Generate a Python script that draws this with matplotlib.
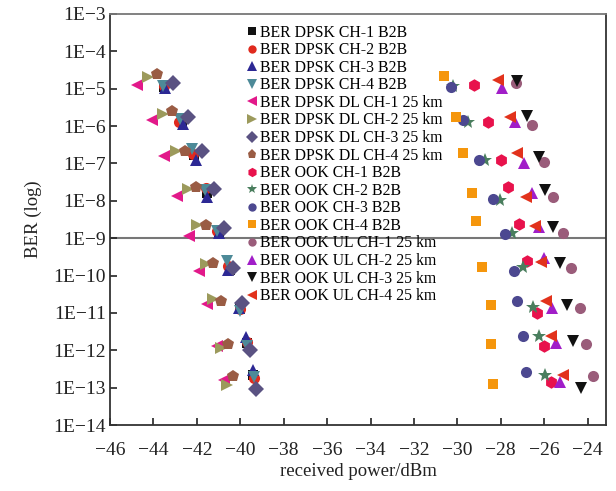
import matplotlib
matplotlib.use("Agg")
import matplotlib.pyplot as plt
import numpy as np

plt.rcParams['font.family'] = ['Liberation Serif', 'DejaVu Serif']

# series labels
labels = [
    "BER DPSK CH-1 B2B", "BER DPSK CH-2 B2B", "BER DPSK CH-3 B2B", "BER DPSK CH-4 B2B",
    "BER DPSK DL CH-1 25 km", "BER DPSK DL CH-2 25 km", "BER DPSK DL CH-3 25 km",
    "BER DPSK DL CH-4 25 km",
    "BER OOK CH-1 B2B", "BER OOK CH-2 B2B", "BER OOK CH-3 B2B", "BER OOK CH-4 B2B",
    "BER OOK UL CH-1 25 km", "BER OOK UL CH-2 25 km", "BER OOK UL CH-3 25 km",
    "BER OOK UL CH-4 25 km",
]

# received power (dBm) per series
power = [
    [-43.50, -42.70, -42.15, -41.55, -41.00, -40.47, -40.00, -39.70, -39.40],
    [-43.52, -42.81, -42.20, -41.60, -41.05, -40.58, -40.02, -39.68, -39.38],
    [-43.47, -42.65, -42.04, -41.52, -40.98, -40.55, -40.04, -39.73, -39.40],
    [-43.54, -42.77, -42.24, -41.62, -41.08, -40.62, -40.01, -39.67, -39.36],
    [-44.77, -44.08, -43.50, -42.90, -42.35, -41.88, -41.52, -41.06, -40.75],
    [-44.23, -43.54, -42.96, -42.39, -41.98, -41.58, -41.27, -40.90, -40.59],
    [-43.08, -42.39, -41.77, -41.21, -40.75, -40.32, -39.93, -39.55, -39.27],
    [-43.82, -43.16, -42.54, -42.04, -41.58, -41.24, -40.90, -40.55, -40.32],
    [-29.23, -28.57, -28.00, -27.65, -27.18, -26.80, -26.34, -26.00, -25.69],
    [-30.18, -29.49, -28.72, -28.03, -27.49, -26.98, -26.52, -26.26, -25.95],
    [-30.30, -29.72, -28.98, -28.36, -27.80, -27.41, -27.23, -26.98, -26.83],
    [-30.61, -30.06, -29.75, -29.33, -29.13, -28.87, -28.46, -28.46, -28.34],
    [-27.30, -26.57, -26.03, -25.57, -25.14, -24.77, -24.37, -24.06, -23.76],
    [-27.95, -27.34, -26.95, -26.57, -26.22, -26.00, -25.65, -25.45, -25.29],
    [-27.23, -26.77, -26.26, -25.95, -25.57, -25.26, -24.95, -24.65, -24.31],
    [-28.11, -27.57, -27.26, -26.83, -26.41, -26.15, -25.91, -25.69, -25.11],
]

# log10(BER) per series
log_ber = [
    [-4.95, -5.88, -6.78, -7.80, -8.85, -9.86, -10.90, -11.80, -12.65],
    [-4.93, -5.88, -6.75, -7.65, -8.80, -9.75, -10.90, -11.78, -12.75],
    [-4.99, -5.94, -6.90, -7.89, -8.86, -9.84, -10.87, -11.64, -12.52],
    [-4.93, -5.81, -6.62, -7.72, -8.82, -9.60, -10.96, -11.88, -12.71],
    [-4.90, -5.85, -6.80, -7.87, -8.94, -9.89, -10.75, -11.88, -12.80],
    [-4.69, -5.67, -6.66, -7.69, -8.64, -9.68, -10.63, -11.94, -12.92],
    [-4.84, -5.75, -6.68, -7.69, -8.73, -9.81, -10.74, -11.98, -13.03],
    [-4.60, -5.59, -6.66, -7.63, -8.65, -9.67, -10.69, -11.83, -12.70],
    [-4.91, -5.88, -6.92, -7.63, -8.61, -9.60, -10.99, -11.89, -12.84],
    [-4.93, -5.88, -6.92, -7.97, -8.85, -9.77, -10.83, -11.61, -12.65],
    [-4.96, -5.85, -6.92, -7.95, -8.88, -9.89, -10.69, -11.63, -12.59],
    [-4.66, -5.76, -6.71, -7.79, -8.53, -9.77, -10.78, -11.82, -12.89],
    [-4.85, -5.97, -6.95, -7.90, -8.85, -9.80, -10.87, -11.82, -12.68],
    [-4.99, -5.88, -6.98, -7.78, -8.70, -9.53, -10.87, -11.81, -12.84],
    [-4.78, -5.73, -6.82, -7.71, -8.70, -9.67, -10.78, -11.74, -13.01],
    [-4.76, -5.76, -6.72, -7.89, -8.67, -9.65, -10.69, -11.63, -12.65],
]

markers = ['s', 'o', '^', 'v', '<', '>', 'D', 'p',
           'h', '*', 'o', 's', 'o', '^', 'v', '<']
colors = ['#111111', '#e02a1e', '#2c2894', '#4d8a98', '#e2198a', '#9c9a5c', '#5a5282', '#9a5c44',
          '#e8124c', '#4a7e5e', '#4c4890', '#f5960c', '#9a5c7a', '#a11ec8', '#111111', '#e2321c']
sizes = [7, 8, 9, 9, 9, 9, 8, 9, 9, 10, 8, 7, 8, 9, 9, 9]

fig = plt.figure(figsize=(6.16, 4.91), dpi=100)
ax = fig.add_axes([0.1786, 0.1344, 0.8052, 0.8371])

for lab, xs, ys, m, c, s in zip(labels, power, log_ber, markers, colors, sizes):
    ax.plot(xs, 10 ** np.array(ys), linestyle='none', marker=m, color=c,
            markersize=s, markeredgewidth=0, label=lab)

ax.axhline(1e-9, color='#777777', lw=1.5, zorder=0)

ax.set_yscale('log')
ax.set_ylim(1e-14, 1e-3)
ax.set_xlim(-46, -23.15)
ax.set_xticks(np.arange(-46, -23, 2))
ax.set_xticklabels(['\u2212%d' % abs(v) for v in range(-46, -23, 2)])
yt = np.arange(-14, -2)
ax.set_yticks(10.0 ** yt)
ax.set_yticklabels(['1E\u2212%d' % abs(v) for v in yt])
ax.minorticks_off()
ax.tick_params(direction='in', length=5, width=1.2, labelsize=14, colors='#222222')
ax.tick_params(axis='x', pad=12)
ax.tick_params(axis='y', pad=3)

for sp in ax.spines.values():
    sp.set_linewidth(1.3)
    sp.set_color('#333333')
ax.spines['top'].set_color('#777777')

ax.set_xlabel('received power/dBm', fontsize=13.5, color='#222222', labelpad=3)
ax.set_ylabel('BER (log)', fontsize=13.5, color='#222222', labelpad=8)

ax.legend(loc='upper left', bbox_to_anchor=(0.251, 0.997), frameon=False,
          fontsize=11.3, labelspacing=0.1, handletextpad=0.05, handlelength=1.0,
          borderpad=0.1, markerscale=0.75)

fig.savefig('out.png', dpi=100)
